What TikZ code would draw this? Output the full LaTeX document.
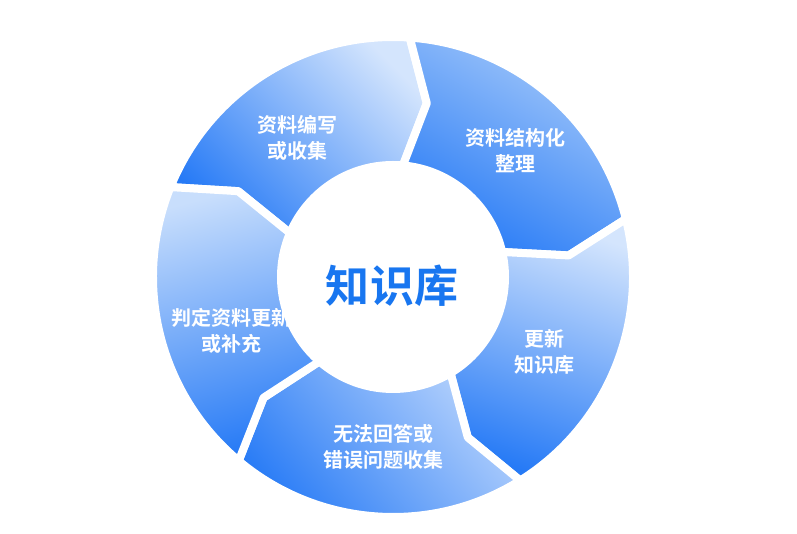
\documentclass[tikz,border=0pt]{standalone}
\usepackage{fontspec}
\newfontfamily\cjk{Noto Sans CJK SC}[BoldFont={Noto Sans CJK SC Bold}]
\definecolor{segdark}{RGB}{38,122,246}
\definecolor{lightA}{RGB}{212,229,253}
\definecolor{lightB}{RGB}{165,201,250}
\definecolor{lightC}{RGB}{212,229,253}
\definecolor{lightD}{RGB}{185,212,252}
\definecolor{lightE}{RGB}{200,222,252}
\definecolor{kbblue}{RGB}{24,118,240}
\begin{document}
\begin{tikzpicture}[x=1pt,y=1pt,
  seg/.style={draw=white, line width=8pt, line join=round, bottom color=segdark},
  lbl/.style={text=white, align=center, font=\cjk\bfseries\fontsize{20}{26}\selectfont}]
\useasboundingbox (-393,-257) rectangle (404,277);
\shadedraw[seg, top color=lightA, shading angle=-45] (158:240) arc[start angle=158, end angle=86, radius=240] -- (79:177) -- (86:105) arc[start angle=86, end angle=158, radius=105] -- (151:177) -- cycle;
\shadedraw[seg, top color=lightB, shading angle=-30] (86:240) arc[start angle=86, end angle=14, radius=240] -- (7:177) -- (14:105) arc[start angle=14, end angle=86, radius=105] -- (79:177) -- cycle;
\shadedraw[seg, top color=lightC, shading angle=-20] (14:240) arc[start angle=14, end angle=-58, radius=240] -- (-65:177) -- (-58:105) arc[start angle=-58, end angle=14, radius=105] -- (7:177) -- cycle;
\shadedraw[seg, top color=lightD, shading angle=-50] (-58:240) arc[start angle=-58, end angle=-130, radius=240] -- (-137:177) -- (-130:105) arc[start angle=-130, end angle=-58, radius=105] -- (-65:177) -- cycle;
\shadedraw[seg, top color=lightE, shading angle=15] (-130:240) arc[start angle=-130, end angle=-202, radius=240] -- (-209:177) -- (-202:105) arc[start angle=-202, end angle=-130, radius=105] -- (-137:177) -- cycle;
\node[lbl] (collect) at (-95,139) {资料编写\\或收集};
\node[lbl] (organize) at (122,126) {资料结构化\\整理};
\node[lbl] (update) at (151,-75) {更新\\知识库};
\node[lbl] (gather) at (-10,-170) {无法回答或\\错误问题收集};
\node[lbl] (judge) at (-161,-54) {判定资料更新\\或补充};
\node[circle, fill=white, minimum size=232pt, inner sep=0pt] (hub) at (0,0) {};
\node[text=kbblue, font=\cjk\bfseries\fontsize{44}{50}\selectfont] (kb) at (-1,-9) {知识库};
\end{tikzpicture}
\end{document}
